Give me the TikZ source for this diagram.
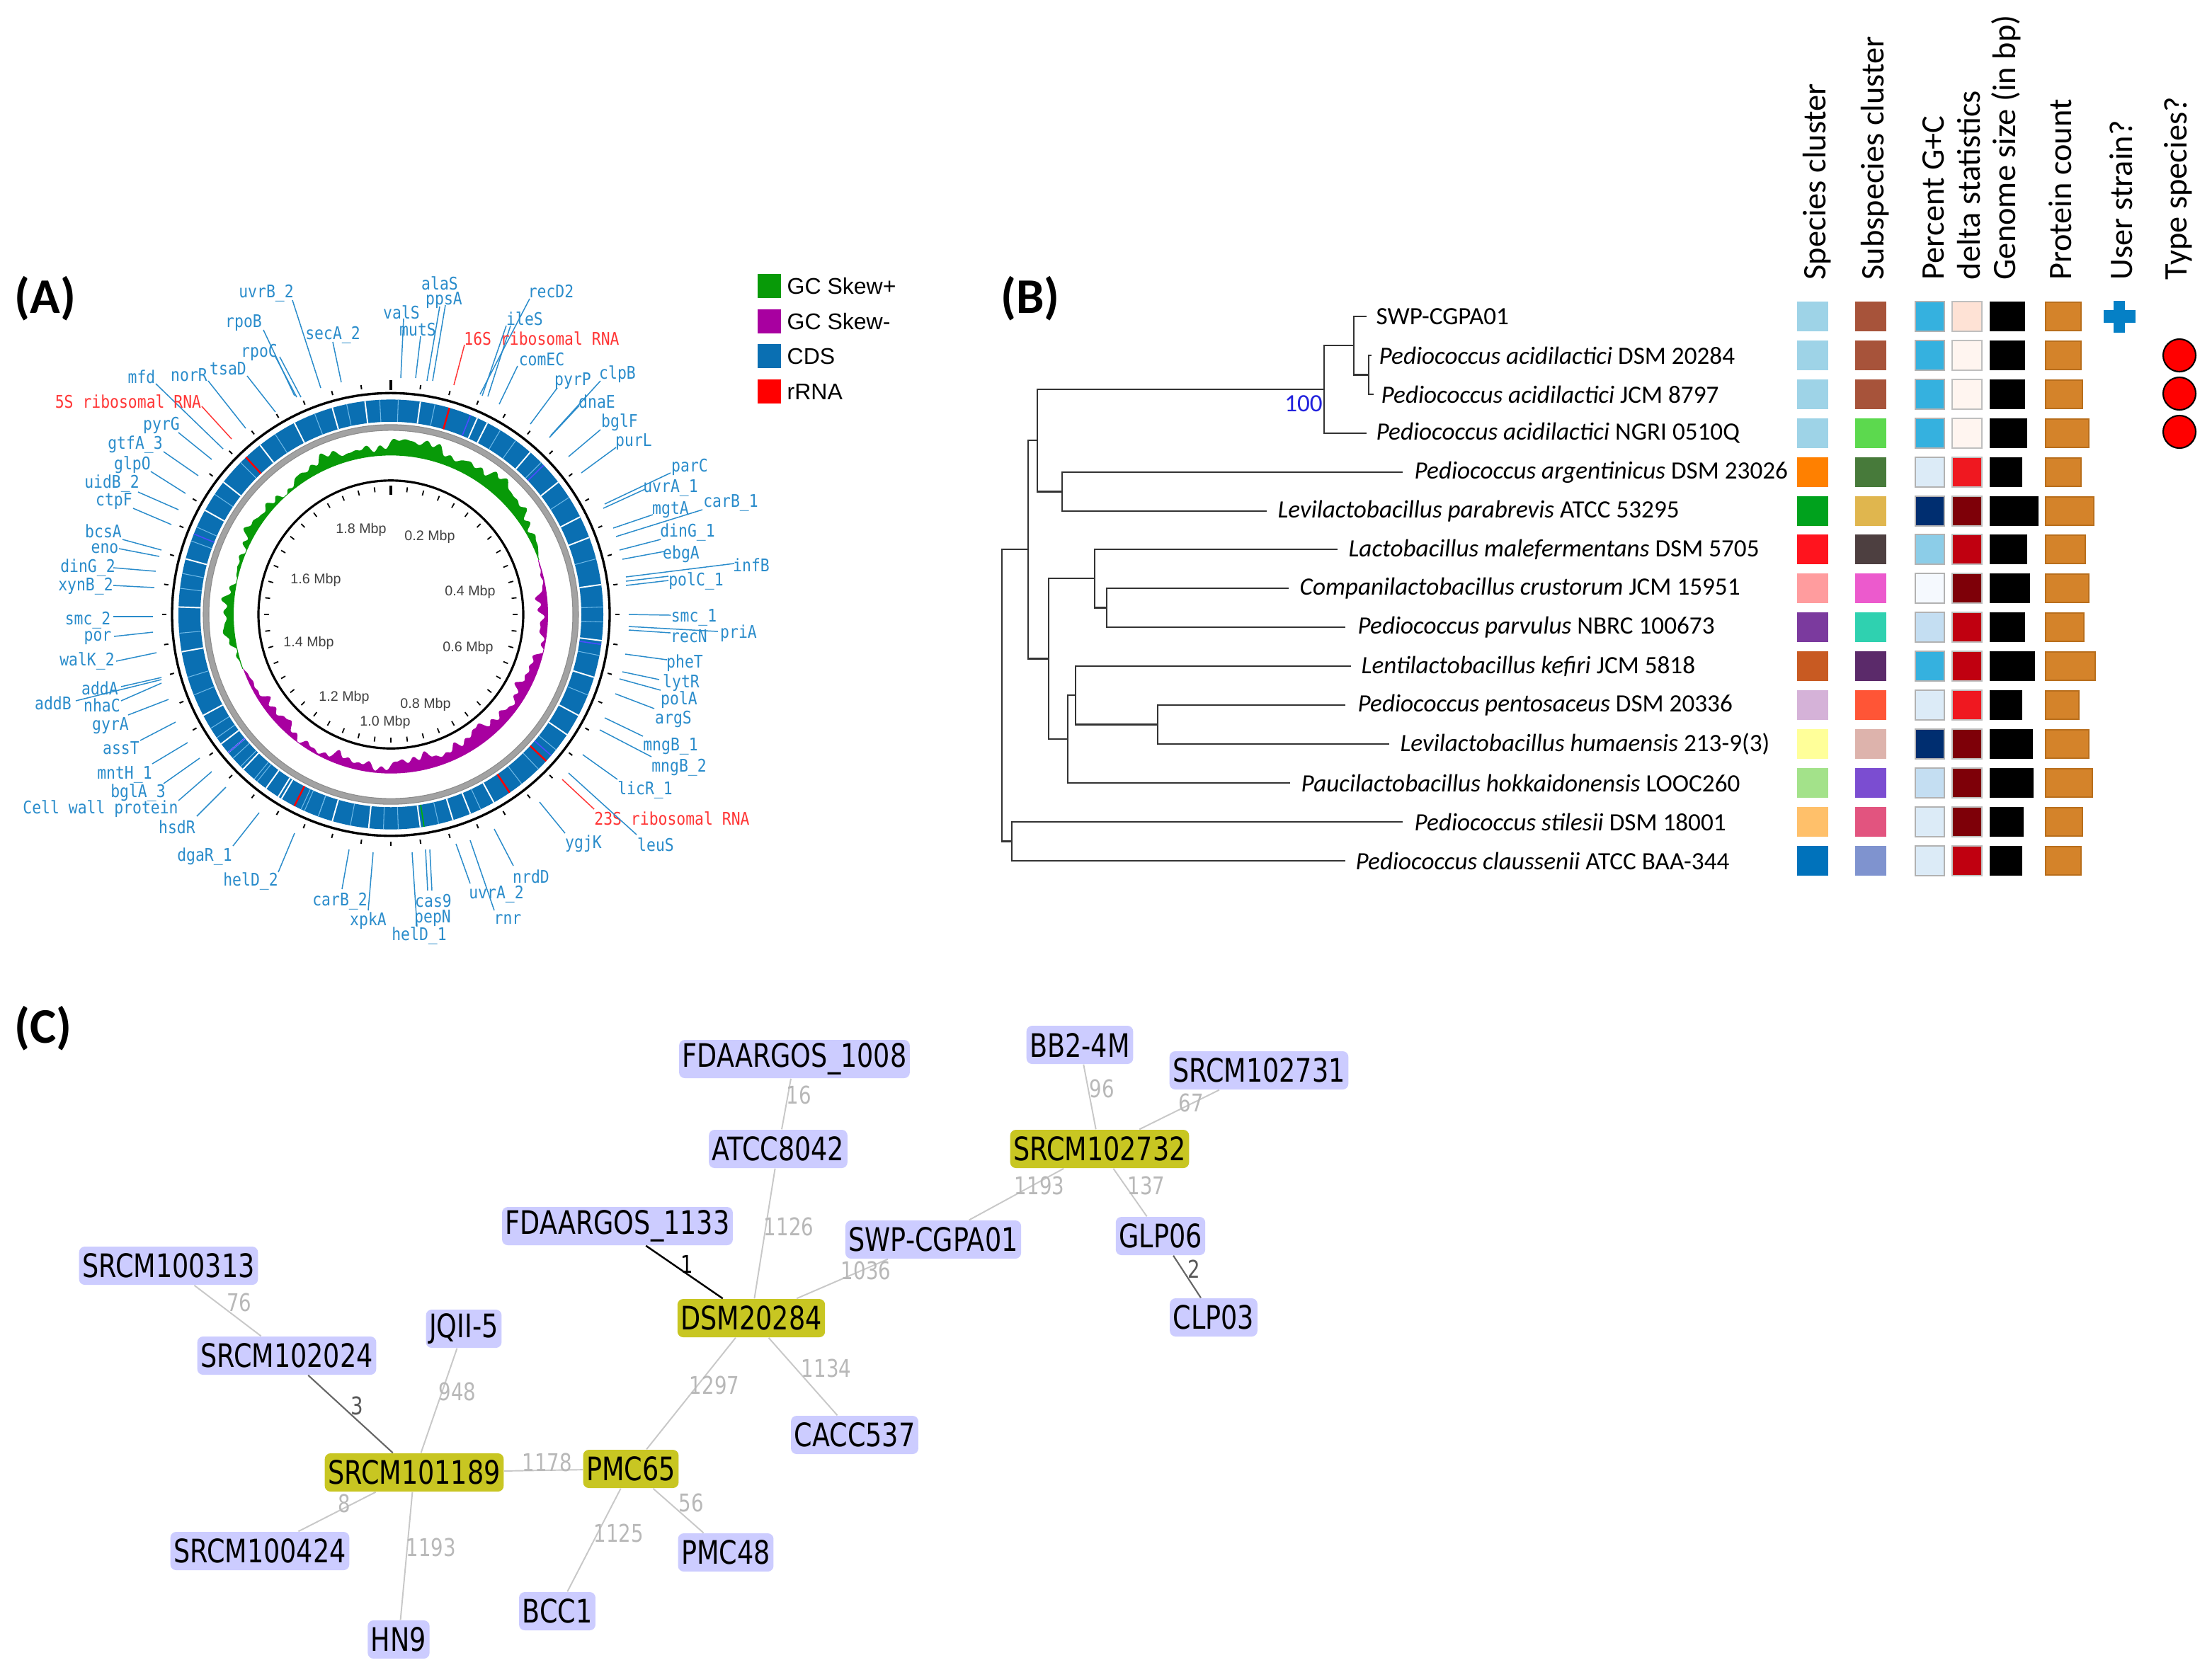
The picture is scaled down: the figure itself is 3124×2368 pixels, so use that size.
\documentclass[tikz,border=0pt]{standalone}
\usepackage{fontspec}
\setmainfont{Carlito}
\newfontfamily\genefont[FakeStretch=0.87]{DejaVu Sans Mono}
\newfontfamily\arialfont{Liberation Sans}
\newfontfamily\netfont[FakeStretch=0.8]{DejaVu Sans}
\definecolor{geneblue}{HTML}{2A8CCB}
\definecolor{rrnared}{HTML}{FF3535}
\definecolor{cdsblue}{HTML}{0A6FB2}
\definecolor{cdslight}{HTML}{6FB8E6}
\definecolor{gcplus}{HTML}{089A08}
\definecolor{gcminus}{HTML}{A800A0}
\definecolor{ringgray}{HTML}{A2A2A2}
\definecolor{nodeblue}{HTML}{CCCCFF}
\definecolor{nodeyellow}{HTML}{C8C622}
\definecolor{edgegray}{HTML}{C8C8C8}
\definecolor{labelgray}{HTML}{B8B8B8}
\definecolor{plusblue}{HTML}{0580C6}
\definecolor{protcol}{HTML}{D4832A}
\definecolor{protedge}{HTML}{B86E1C}
\definecolor{bootblue}{HTML}{2222DD}
\tikzset{
 leader/.style={line width=0.42pt},
 genelbl/.style={font=\genefont\fontsize{7}{8}\selectfont, inner sep=0pt},
 mbplbl/.style={font=\arialfont\fontsize{5.6}{6}\selectfont, text=black!75, inner sep=0pt},
 panellbl/.style={font=\bfseries\fontsize{20}{24}\selectfont, inner sep=0pt},
 legbox/.style={minimum width=0.33cm, minimum height=0.34cm, inner sep=0pt},
 legtxt/.style={anchor=west, font=\arialfont\fontsize{9.1}{11}\selectfont, inner sep=0pt},
 leaflbl/.style={anchor=west, font=\fontsize{10}{12}\selectfont, inner sep=0pt},
 hdr/.style={rotate=90, anchor=west, font=\fontsize{13.2}{15}\selectfont, inner sep=0pt},
 branch/.style={line width=0.8pt, draw=black!80},
 net/.style={rounded corners=2.3pt, minimum height=0.54cm, inner xsep=1.3pt, inner ysep=0pt, font=\netfont\fontsize{13}{15}\selectfont},
 strain/.style={net, fill=nodeblue},
 hub/.style={net, fill=nodeyellow},
 lnk/.style={draw=edgegray, line width=0.55pt},
 dlnk/.style={draw=black!60, line width=0.6pt},
 blnk/.style={draw=black, line width=0.7pt},
 elbl/.style={font=\netfont\fontsize{9.8}{10}\selectfont, text=labelgray, inner sep=0pt},
}
\newcounter{glc}
\newcommand\gn[8]{\stepcounter{glc}\draw[leader,#1] (#7,#8) -- (#5,#6);\node[genelbl,text=#1] (gene\arabic{glc}) at (#3,#4) {#2};}
\begin{document}
\begin{tikzpicture}[x=0.01cm,y=-0.01cm,
 declare function={gA(\t)=max(1,(13+6*sin(2*\t+40)+5*sin(11*\t)+3*sin(29*\t+15)+2.5*sin(71*\t)+2*sin(89*(\t+110)))*min(1,(70-\t)/12,(\t+110)/12));
 mA(\t)=max(1,(13+5*sin(3*\t)+4*sin(13*\t+30)+3*sin(31*(\t-70))+2.5*sin(83*(\t-70)+5)+2*sin(61*(\t-70)+20))*min(1,(\t-70)/12,(250-\t)/12));}]
\useasboundingbox (0,0) rectangle (3124,2368);
\fill[white] (0,0) rectangle (3124,2368);

% ================= Panel A =================
\node[panellbl] (pa) at (64,422) {(A)};
\begin{scope}[shift={(552,868)}, yscale=1.012]
 \fill[ringgray, even odd rule] (0,0) circle (265) (0,0) circle (257);
 \draw[black!45, line width=0.3pt] (0,0) circle (265) (0,0) circle (257);
 \fill[cdsblue, even odd rule] (0,0) circle (300) (0,0) circle (269);
 \foreach \a in {-160,-155,-140,-135,-125,-112,-107,-95,-83,-79,-70,-66,-56,-45,-33,-21,-12,-3,2,12,31,36,45,57,75,88,92,101,112,129,136,142,155,167,178,182,191,200,204,219,228,238}
  \draw[cdslight, line width=0.3pt] ({269*sin(\a)},{-269*cos(\a)}) -- ({300*sin(\a)},{-300*cos(\a)});
 \foreach \a in {-148,-130,-118,-100,-88,-75,-61,-52,-38,-27,-16,-7,8,24,27,41,52,63,69,82,97,107,118,124,151,158,163,172,186,196,211,216,224,233}
  \draw[white, line width=0.55pt] ({269*sin(\a)},{-269*cos(\a)}) -- ({300*sin(\a)},{-300*cos(\a)});
 \foreach \a in {22,46,98,131,-68,230}
  \draw[blue!70!white, line width=0.45pt] ({269*sin(\a)},{-269*cos(\a)}) -- ({300*sin(\a)},{-300*cos(\a)});
 \draw[green!70!black, line width=0.45pt] ({269*sin(171)},{-269*cos(171)}) -- ({300*sin(171)},{-300*cos(171)});
 \foreach \a in {16,-43,133,146,207}
  \draw[red, line width=0.7pt] ({269*sin(\a)},{-269*cos(\a)}) -- ({300*sin(\a)},{-300*cos(\a)});
 \draw[line width=0.95pt] (0,0) circle (309);
 \fill[gcplus] plot[domain=-110:70, samples=541, variable=\t] ({(222+gA(\t))*sin(\t)},{-(222+gA(\t))*cos(\t)})
   -- plot[domain=70:-110, samples=91, variable=\t] ({222*sin(\t)},{-222*cos(\t)}) -- cycle;
 \fill[gcminus] plot[domain=70:250, samples=541, variable=\t] ({(222-mA(\t))*sin(\t)},{-(222-mA(\t))*cos(\t)})
   -- plot[domain=250:70, samples=91, variable=\t] ({222*sin(\t)},{-222*cos(\t)}) -- cycle;
 \draw[line width=0.9pt] (0,0) circle (187);
 \foreach \i in {1,...,47}{
  \draw[line width=0.55pt] ({317*sin(7.5*\i)},{-317*cos(7.5*\i)}) -- ({323*sin(7.5*\i)},{-323*cos(7.5*\i)});
  \draw[line width=0.5pt] ({172*sin(7.5*\i)},{-172*cos(7.5*\i)}) -- ({179*sin(7.5*\i)},{-179*cos(7.5*\i)});
 }
 \draw[line width=1.2pt] (0,-313) -- (0,-327);
 \draw[line width=1.2pt] (0,-167) -- (0,-180);
\end{scope}
\node[mbplbl] (m18) at (510,748) {1.8 Mbp};
\node[mbplbl] (m02) at (607,758) {0.2 Mbp};
\node[mbplbl] (m16) at (446,819) {1.6 Mbp};
\node[mbplbl] (m04) at (664,836) {0.4 Mbp};
\node[mbplbl] (m14) at (436,908) {1.4 Mbp};
\node[mbplbl] (m06) at (661,915) {0.6 Mbp};
\node[mbplbl] (m12) at (486,985) {1.2 Mbp};
\node[mbplbl] (m08) at (601,995) {0.8 Mbp};
\node[mbplbl] (m10) at (544,1020) {1.0 Mbp};

\gn{geneblue}{uvrB\_2}{376}{414}{413}{424}{453}{548}
\gn{geneblue}{rpoB}{344}{456}{372}{466}{416}{559}
\gn{geneblue}{secA\_2}{470}{473}{470}{483}{482}{540}
\gn{geneblue}{rpoC}{366}{498}{389}{504}{419}{561}
\draw[leader,geneblue] (395,504) -- (425,561);
\gn{geneblue}{tsaD}{322}{521}{349}{531}{389}{582}
\gn{geneblue}{norR}{267}{530}{294}{538}{347}{605}
\gn{geneblue}{mfd}{200}{532}{220}{542}{315}{634}
\gn{rrnared}{5S ribosomal RNA}{181}{567}{285}{574}{327}{620}
\gn{geneblue}{pyrG}{228}{601}{252}{611}{299}{649}
\gn{geneblue}{gtfA\_3}{191}{628}{231}{638}{280}{672}
\gn{geneblue}{glpO}{187}{657}{213}{666}{262}{697}
\gn{geneblue}{uidB\_2}{158}{683}{195}{695}{252}{720}
\gn{geneblue}{ctpF}{161}{708}{188}{718}{242}{741}
\gn{geneblue}{bcsA}{146}{750}{173}{762}{228}{777}
\gn{geneblue}{eno}{148}{775}{168}{775}{225}{786}
\gn{geneblue}{dinG\_2}{124}{802}{160}{802}{220}{807}
\gn{geneblue}{xynB\_2}{121}{828}{160}{827}{218}{830}
\gn{geneblue}{smc\_2}{124}{876}{160}{871}{216}{871}
\gn{geneblue}{por}{138}{901}{161}{899}{216}{893}
\gn{geneblue}{walK\_2}{123}{934}{164}{934}{221}{922}
\gn{geneblue}{alaS}{621}{400}{629}{431}{611}{538}
\gn{geneblue}{ppsA}{627}{424}{621}{433}{603}{538}
\gn{geneblue}{valS}{567}{441}{570}{450}{566}{534}
\gn{geneblue}{mutS}{590}{466}{594}{475}{587}{534}
\gn{geneblue}{recD2}{778}{412}{748}{422}{678}{557}
\gn{geneblue}{ileS}{741}{450}{715}{460}{681}{559}
\draw[leader,geneblue] (721,460) -- (689,560);
\gn{rrnared}{16S ribosomal RNA}{765}{478}{656}{487}{641}{544}
\gn{geneblue}{comEC}{765}{508}{731}{517}{705}{571}
\gn{geneblue}{pyrP}{809}{538}{787}{548}{749}{599}
\gn{geneblue}{clpB}{872}{529}{848}{538}{778}{615}
\gn{geneblue}{dnaE}{843}{567}{818}{573}{776}{618}
\gn{geneblue}{bglF}{875}{597}{848}{607}{803}{645}
\gn{geneblue}{purL}{895}{624}{870}{632}{821}{668}
\gn{geneblue}{parC}{974}{660}{947}{668}{854}{712}
\gn{geneblue}{uvrA\_1}{947}{689}{911}{691}{852}{718}
\gn{geneblue}{mgtA}{947}{720}{922}{727}{866}{746}
\gn{geneblue}{carB\_1}{1032}{710}{992}{720}{870}{758}
\gn{geneblue}{dinG\_1}{971}{752}{933}{762}{875}{777}
\gn{geneblue}{ebgA}{962}{783}{938}{779}{879}{790}
\gn{geneblue}{infB}{1061}{798}{1037}{796}{884}{815}
\gn{geneblue}{polC\_1}{983}{821}{944}{814}{884}{821}
\draw[leader,geneblue] (944,820) -- (884,827);
\gn{geneblue}{smc\_1}{980}{872}{947}{869}{888}{868}
\gn{geneblue}{recN}{973}{899}{947}{894}{888}{890}
\gn{geneblue}{priA}{1043}{895}{1014}{892}{888}{885}
\gn{geneblue}{pheT}{967}{937}{942}{932}{883}{924}
\gn{geneblue}{lytR}{962}{965}{931}{960}{879}{949}
\gn{geneblue}{polA}{959}{989}{933}{975}{875}{959}
\gn{geneblue}{argS}{951}{1016}{924}{1001}{869}{980}
\gn{geneblue}{mngB\_1}{947}{1054}{908}{1040}{854}{1014}
\gn{geneblue}{mngB\_2}{959}{1084}{920}{1069}{847}{1031}
\gn{geneblue}{licR\_1}{911}{1116}{872}{1101}{823}{1066}
\gn{rrnared}{23S ribosomal RNA}{949}{1156}{839}{1143}{794}{1101}
\gn{geneblue}{leuS}{926}{1193}{899}{1179}{803}{1092}
\gn{geneblue}{ygjK}{824}{1192}{798}{1177}{762}{1133}
\gn{geneblue}{nrdD}{750}{1238}{725}{1223}{698}{1171}
\gn{geneblue}{uvrA\_2}{701}{1263}{664}{1248}{644}{1192}
\gn{geneblue}{rnr}{717}{1299}{698}{1286}{664}{1187}
\gn{geneblue}{cas9}{612}{1273}{604}{1258}{601}{1200}
\gn{geneblue}{pepN}{611}{1297}{610}{1258}{607}{1200}
\gn{geneblue}{helD\_1}{592}{1322}{589}{1309}{582}{1204}
\gn{geneblue}{xpkA}{520}{1301}{520}{1286}{527}{1204}
\gn{geneblue}{carB\_2}{480}{1273}{483}{1256}{493}{1200}
\gn{geneblue}{helD\_2}{354}{1245}{393}{1232}{416}{1177}
\gn{geneblue}{dgaR\_1}{289}{1210}{329}{1195}{366}{1148}
\gn{geneblue}{hsdR}{250}{1168}{278}{1153}{319}{1112}
\gn{geneblue}{Cell wall protein}{142}{1143}{252}{1131}{299}{1090}
\gn{geneblue}{bglA\_3}{195}{1120}{231}{1107}{282}{1071}
\gn{geneblue}{mntH\_1}{176}{1094}{215}{1079}{265}{1049}
\gn{geneblue}{assT}{171}{1057}{198}{1046}{248}{1020}
\gn{geneblue}{gyrA}{156}{1025}{181}{1010}{238}{988}
\gn{geneblue}{addA}{141}{972}{171}{970}{228}{957}
\gn{geneblue}{addB}{75}{993}{107}{990}{228}{960}
\gn{geneblue}{nhaC}{144}{996}{171}{990}{228}{965}

% legend A
\node[legbox, fill=gcplus] (lg1) at (1086,404) {};
\node[legtxt] (lt1) at (1111,404) {GC Skew+};
\node[legbox, fill=gcminus] (lg2) at (1086,454) {};
\node[legtxt] (lt2) at (1111,454) {GC Skew-};
\node[legbox, fill=cdsblue] (lg3) at (1086,503) {};
\node[legtxt] (lt3) at (1111,503) {CDS};
\node[legbox, fill=red] (lg4) at (1086,553) {};
\node[legtxt] (lt4) at (1111,553) {rRNA};

% ================= Panel B =================
\node[panellbl] (pb) at (1455,422) {(B)};
\coordinate (r1) at (1930,447); \coordinate (r2) at (1937,502); \coordinate (r3) at (1940,557);
\coordinate (r4) at (1930,612); \coordinate (r5) at (1981,667); \coordinate (r6) at (1789,722);
\coordinate (r7) at (1889,776); \coordinate (r8) at (1820,831); \coordinate (r9) at (1900,886);
\coordinate (r10) at (1908,941); \coordinate (r11) at (1900,996); \coordinate (r12) at (1962,1051);
\coordinate (r13) at (1822,1106); \coordinate (r14) at (1981,1161); \coordinate (r15) at (1900,1216);
\coordinate (nA2) at (1933,529.5); \coordinate (nA1) at (1912,488); \coordinate (nA) at (1870,550);
\coordinate (nAP) at (1500,694.5); \coordinate (nU) at (1465,622); \coordinate (nCP) at (1563,858.5);
\coordinate (nM) at (1546,817); \coordinate (nPH) at (1635,1023.5); \coordinate (nKP) at (1519,982);
\coordinate (nK) at (1508,1044); \coordinate (nL) at (1481,930.5); \coordinate (nB) at (1452,776);
\coordinate (nS) at (1429,1188.5); \coordinate (nR) at (1415,982);
\draw[branch] (r2) -| (nA2) |- (r3);
\draw[branch] (r1) -| (nA1) |- (nA2);
\draw[branch] (nA1) -| (nA) |- (r4);
\draw[branch] (r5) -| (nAP) |- (r6);
\draw[branch] (nA) -| (nU) |- (nAP);
\draw[branch] (r8) -| (nCP) |- (r9);
\draw[branch] (r7) -| (nM) |- (nCP);
\draw[branch] (r11) -| (nPH) |- (r12);
\draw[branch] (r10) -| (nKP) |- (nPH);
\draw[branch] (nKP) -| (nK) |- (r13);
\draw[branch] (nM) -| (nL) |- (nK);
\draw[branch] (nU) -| (nB) |- (nL);
\draw[branch] (r14) -| (nS) |- (r15);
\draw[branch] (nB) -| (nR) |- (nS);
\node[font=\fontsize{10}{12}\selectfont, text=bootblue, inner sep=0pt] (boot) at (1841,570) {100};

\node[leaflbl] (l1) at (1943,447) {SWP-CGPA01};
\node[leaflbl] (l2) at (1947,502) {\textit{Pediococcus acidilactici} DSM 20284};
\node[leaflbl] (l3) at (1950,557) {\textit{Pediococcus acidilactici} JCM 8797};
\node[leaflbl] (l4) at (1943,612) {\textit{Pediococcus acidilactici} NGRI 0510Q};
\node[leaflbl] (l5) at (1997,667) {\textit{Pediococcus argentinicus} DSM 23026};
\node[leaflbl] (l6) at (1804,722) {\textit{Levilactobacillus parabrevis} ATCC 53295};
\node[leaflbl] (l7) at (1904,776) {\textit{Lactobacillus malefermentans} DSM 5705};
\node[leaflbl] (l8) at (1835,831) {\textit{Companilactobacillus crustorum} JCM 15951};
\node[leaflbl] (l9) at (1917,886) {\textit{Pediococcus parvulus} NBRC 100673};
\node[leaflbl] (l10) at (1922,941) {\textit{Lentilactobacillus kefiri} JCM 5818};
\node[leaflbl] (l11) at (1917,996) {\textit{Pediococcus pentosaceus} DSM 20336};
\node[leaflbl] (l12) at (1977,1051) {\textit{Levilactobacillus humaensis} 213-9(3)};
\node[leaflbl] (l13) at (1837,1106) {\textit{Paucilactobacillus hokkaidonensis} LOOC260};
\node[leaflbl] (l14) at (1997,1161) {\textit{Pediococcus stilesii} DSM 18001};
\node[leaflbl] (l15) at (1914,1216) {\textit{Pediococcus claussenii} ATCC BAA-344};

% headers
\node[hdr] (h1) at (2566,396) {Species cluster};
\node[hdr] (h2) at (2648,396) {Subspecies cluster};
\node[hdr] (h3) at (2731,396) {Percent G+C};
\node[hdr] (h4) at (2781,396) {delta statistics};
\node[hdr] (h5) at (2833,396) {Genome size (in bp)};
\node[hdr] (h6) at (2910,396) {Protein count};
\node[hdr] (h7) at (2996,396) {User strain?};
\node[hdr] (h8) at (3076,396) {Type species?};

% heat map
\foreach \y/\cs/\cu/\cp/\cd/\g/\p in {
 447/9ED3E7/A7533A/35B1DF/FEE2D5/2860/2939,
 502/9ED3E7/A7533A/35B1DF/FFF5F0/2860/2939,
 557/9ED3E7/A7533A/35B1DF/FFF5F0/2860/2941,
 612/9ED3E7/5CD94E/35B1DF/FFF5F0/2863/2950,
 667/FF8000/477A3A/DCEBF7/EF1820/2856/2939,
 722/00A21D/E0B64E/002E70/7E0008/2879/2957,
 776/FF141E/4D3F40/8CCDE8/C00010/2863/2945,
 831/FF9C9E/EC5ACD/F5F9FE/7E0008/2867/2950,
 886/7B3A9E/2FD1B0/C4DEF2/C00010/2860/2943,
 941/C85A22/5B2A6A/35B1DF/C00010/2874/2959,
 996/D5B2D8/FF5536/DCEBF7/EF1820/2856/2936,
 1051/FFFF99/DDB3AC/002E70/7E0008/2871/2950,
 1106/A3E28A/7B4DD1/C4DEF2/7E0008/2872/2955,
 1161/FFC06A/E2547F/DCEBF7/7E0008/2858/2941,
 1216/0072BB/7F93CF/DCEBF7/C00010/2856/2939}{
 \definecolor{tcs}{HTML}{\cs}\definecolor{tcu}{HTML}{\cu}\definecolor{tcp}{HTML}{\cp}\definecolor{tcd}{HTML}{\cd}
 \fill[tcs] (2538,\y-21) rectangle (2582,\y+21);
 \fill[tcu] (2620,\y-21) rectangle (2664,\y+21);
 \filldraw[fill=tcp, draw=black!30, line width=0.4pt] (2705,\y-21) rectangle (2746,\y+21);
 \filldraw[fill=tcd, draw=black!25, line width=0.4pt] (2757,\y-21) rectangle (2799,\y+21);
 \fill[black] (2810,\y-21) rectangle (\g,\y+21);
 \filldraw[fill=protcol, draw=protedge, line width=0.4pt] (2889,\y-20) rectangle (\p,\y+20);
}
\fill[plusblue] (2971,438) rectangle (3016,456);
\fill[plusblue] (2985,425) rectangle (3001,470);
\foreach \y in {502,556,610}
 \filldraw[fill=red, draw=black, line width=0.6pt] (3078,\y) circle (23);

% ================= Panel C =================
\node[panellbl] (pc) at (61,1453) {(C)};
\node[strain] (n1) at (1122,1496) {FDAARGOS\_1008};
\node[strain] (n2) at (1099,1623) {ATCC8042};
\node[strain] (n3) at (1525,1476) {BB2-4M};
\node[strain] (n4) at (1778,1512) {SRCM102731};
\node[hub] (n5) at (1553,1623) {SRCM102732};
\node[strain] (n6) at (1318,1751) {SWP-CGPA01};
\node[strain] (n7) at (1639,1746) {GLP06};
\node[strain] (n8) at (1714,1861) {CLP03};
\node[hub] (n9) at (1061,1862) {DSM20284};
\node[strain] (n10) at (1207,2027) {CACC537};
\node[strain] (n11) at (872,1732) {FDAARGOS\_1133};
\node[strain] (n12) at (238,1788) {SRCM100313};
\node[strain] (n13) at (405,1915) {SRCM102024};
\node[strain] (n14) at (655,1877) {JQII-5};
\node[hub] (n15) at (585,2080) {SRCM101189};
\node[hub] (n16) at (891,2075) {PMC65};
\node[strain] (n17) at (367,2191) {SRCM100424};
\node[strain] (n18) at (787,2276) {BCC1};
\node[strain] (n19) at (563,2316) {HN9};
\node[strain] (n20) at (1025,2193) {PMC48};

\draw[lnk] (n12) -- (n13);
\draw[dlnk] (n13) -- (n15);
\draw[lnk] (n14) -- (n15);
\draw[lnk] (n15) -- (n16);
\draw[lnk] (n15) -- (n17);
\draw[lnk] (n15) -- (n19);
\draw[lnk] (n16) -- (n18);
\draw[lnk] (n16) -- (n20);
\draw[lnk] (n16) -- (n9);
\draw[blnk] (n11) -- (n9);
\draw[lnk] (n2) -- (n9);
\draw[lnk] (n1) -- (n2);
\draw[lnk] (n9) -- (n6);
\draw[lnk] (n6) -- (n5);
\draw[lnk] (n9) -- (n10);
\draw[lnk] (n3) -- (n5);
\draw[lnk] (n4) -- (n5);
\draw[lnk] (n5) -- (n7);
\draw[dlnk] (n7) -- (n8);

\node[elbl] (e1) at (338,1840) {76};
\node[elbl, text=black!65] (e2) at (504,1986) {3};
\node[elbl] (e3) at (646,1966) {948};
\node[elbl] (e4) at (773,2066) {1178};
\node[elbl] (e5) at (486,2124) {8};
\node[elbl] (e6) at (609,2186) {1193};
\node[elbl] (e7) at (874,2166) {1125};
\node[elbl] (e8) at (976,2123) {56};
\node[elbl] (e9) at (1009,1957) {1297};
\node[elbl, text=black] (e10) at (970,1786) {1};
\node[elbl] (e11) at (1114,1733) {1126};
\node[elbl] (e12) at (1128,1547) {16};
\node[elbl] (e13) at (1223,1795) {1036};
\node[elbl] (e14) at (1468,1675) {1193};
\node[elbl] (e15) at (1167,1933) {1134};
\node[elbl] (e16) at (1556,1538) {96};
\node[elbl] (e17) at (1682,1558) {67};
\node[elbl] (e18) at (1619,1675) {137};
\node[elbl, text=black!65] (e19) at (1686,1793) {2};
\end{tikzpicture}
\end{document}
